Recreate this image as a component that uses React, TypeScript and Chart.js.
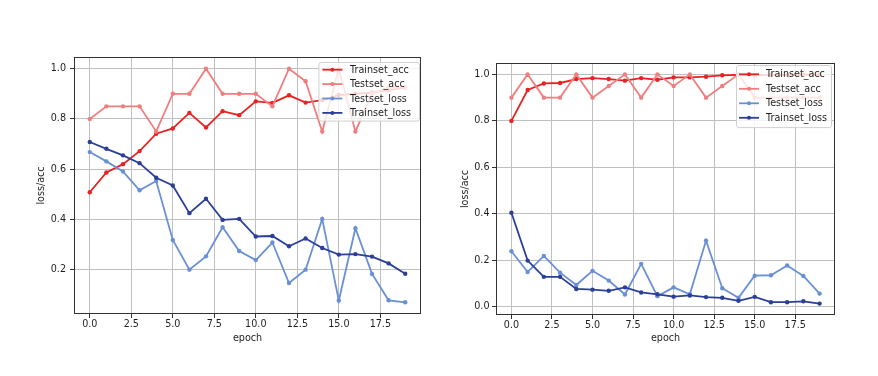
import React, { useEffect, useRef } from "react";
import { Chart, registerables } from "chart.js";

Chart.register(...registerables);

// ---------- data ----------
const epochs = [0, 1, 2, 3, 4, 5, 6, 7, 8, 9, 10, 11, 12, 13, 14, 15, 16, 17, 18, 19];
const seriesNames = ["Trainset_acc", "Testset_acc", "Testset_loss", "Trainset_loss"];
const xTickValues = [0, 2.5, 5, 7.5, 10, 12.5, 15, 17.5];
const leftYTickValues = [0.2, 0.4, 0.6, 0.8, 1.0];
const rightYTickValues = [0.0, 0.2, 0.4, 0.6, 0.8, 1.0];

const leftTrainAcc = [0.508, 0.587, 0.62, 0.672, 0.741, 0.762, 0.824, 0.766, 0.831, 0.815, 0.87, 0.864, 0.894, 0.865, 0.875, 0.895, 0.9, 0.905, 0.915, 0.925];
const leftTestAcc = [0.8, 0.85, 0.85, 0.85, 0.75, 0.9, 0.9, 1.0, 0.9, 0.9, 0.9, 0.85, 1.0, 0.95, 0.75, 1.0, 0.75, 0.9, 0.925, 0.925];
const leftTestLoss = [0.668, 0.631, 0.591, 0.516, 0.553, 0.318, 0.2, 0.253, 0.369, 0.274, 0.238, 0.308, 0.147, 0.2, 0.402, 0.077, 0.365, 0.183, 0.078, 0.07];
const leftTrainLoss = [0.708, 0.681, 0.655, 0.624, 0.566, 0.535, 0.425, 0.482, 0.398, 0.402, 0.332, 0.334, 0.293, 0.324, 0.286, 0.26, 0.262, 0.252, 0.225, 0.184];

const rightTrainAcc = [0.8, 0.933, 0.961, 0.963, 0.98, 0.984, 0.98, 0.973, 0.984, 0.977, 0.987, 0.987, 0.99, 0.996, 0.998, 0.997, 0.998, 0.998, 0.999, 0.999];
const rightTestAcc = [0.9, 1.0, 0.9, 0.9, 1.0, 0.9, 0.95, 1.0, 0.9, 1.0, 0.95, 1.0, 0.9, 0.95, 1.0, 0.9, 0.9, 0.9, 0.9, 0.9];
const rightTestLoss = [0.239, 0.15, 0.219, 0.147, 0.094, 0.155, 0.113, 0.053, 0.185, 0.046, 0.084, 0.054, 0.285, 0.08, 0.039, 0.134, 0.136, 0.178, 0.133, 0.057];
const rightTrainLoss = [0.405, 0.199, 0.129, 0.129, 0.077, 0.074, 0.069, 0.084, 0.062, 0.054, 0.044, 0.049, 0.042, 0.039, 0.026, 0.043, 0.02, 0.02, 0.024, 0.014];

// ---------- styles ----------
const seriesColors = ["#e82222", "#ef7f7f", "#6a90d4", "#2b3f9a"];
const FONT_FAMILY = '"DejaVu Sans", sans-serif';
const FONT_SIZE = 9.6;
const TEXT_COLOR = "#1e1e1e";
const GRID_COLOR = "#c0c0c0";

const legendPlugin = {
  id: "innerLegend",
  afterDatasetsDraw(chart: any, _args: any, opts: any) {
    const { ctx, chartArea: a } = chart;
    const ds = chart.data.datasets;
    ctx.save();
    ctx.font = `${FONT_SIZE}px ${FONT_FAMILY}`;
    const textW = Math.max(...ds.map((d: any) => ctx.measureText(d.label).width));
    const w = opts.padL + opts.handle + opts.gap + textW + opts.padR;
    const h = opts.rowOffset * 2 + opts.rowH * (ds.length - 1);
    const right = a.right - opts.marginRight;
    const left = right - w;
    const top = a.top + opts.marginTop;
    ctx.beginPath();
    if ((ctx as any).roundRect) (ctx as any).roundRect(left + 0.5, top + 0.5, w, h, 2.5);
    else ctx.rect(left + 0.5, top + 0.5, w, h);
    ctx.fillStyle = "rgba(255,255,255,0.8)";
    ctx.fill();
    ctx.strokeStyle = "#d0d0d0";
    ctx.lineWidth = 1;
    ctx.stroke();
    ds.forEach((d: any, i: number) => {
      const y = top + opts.rowOffset + i * opts.rowH;
      const x0 = left + opts.padL;
      ctx.strokeStyle = d.borderColor;
      ctx.lineWidth = 1.8;
      ctx.beginPath();
      ctx.moveTo(x0, y);
      ctx.lineTo(x0 + opts.handle, y);
      ctx.stroke();
      ctx.fillStyle = d.borderColor;
      ctx.beginPath();
      ctx.arc(x0 + opts.handle / 2, y, 2, 0, Math.PI * 2);
      ctx.fill();
      ctx.fillStyle = "#1e1e1e";
      ctx.textBaseline = "middle";
      ctx.textAlign = "left";
      ctx.fillText(d.label, x0 + opts.handle + opts.gap, y + 0.5);
    });
    ctx.restore();
  },
};

const framePlugin = {
  id: "frame",
  afterDraw(chart: any) {
    const { ctx, chartArea: a } = chart;
    ctx.save();
    ctx.strokeStyle = "#333";
    ctx.lineWidth = 1;
    const l = Math.round(a.left) + 0.5;
    const t = Math.round(a.top) + 0.5;
    const r = Math.round(a.right) - 0.5;
    const b = Math.round(a.bottom) - 0.5;
    ctx.strokeRect(l, t, r - l, b - t);
    ctx.restore();
  },
};

type Spec = {
  series: number[][];
  yTicks: number[];
  yMin: number;
  yMax: number;
  padding: { left: number; top: number; right: number; bottom: number };
  yAxisWidth: number;
  xAxisHeight: number;
  yTitlePad: number;
  yTickPad: number;
  xTickPad: number;
  xTitlePad: number;
  legend: any;
};

function makeConfig(spec: Spec): any {
  const font = { family: FONT_FAMILY, size: FONT_SIZE, lineHeight: 1.2 };
  return {
    type: "line",
    data: {
      datasets: seriesNames.map((name, k) => ({
        label: name,
        data: spec.series[k].map((v, i) => ({ x: epochs[i], y: v })),
        borderColor: seriesColors[k],
        backgroundColor: seriesColors[k],
        pointBackgroundColor: seriesColors[k],
        pointBorderWidth: 0,
        pointRadius: 2.2,
        pointHoverRadius: 2.2,
        borderWidth: 1.8,
        tension: 0,
        fill: false,
        order: 3 - k,
      })),
    },
    options: {
      animation: false,
      responsive: false,
      devicePixelRatio: 1,
      events: [],
      layout: { padding: spec.padding },
      plugins: {
        legend: { display: false },
        tooltip: { enabled: false },
        innerLegend: spec.legend,
      },
      scales: {
        x: {
          type: "linear",
          min: -0.95,
          max: 19.95,
          afterBuildTicks: (s: any) => {
            s.ticks = xTickValues.map((v) => ({ value: v }));
          },
          afterFit: (s: any) => {
            s.height = spec.xAxisHeight;
          },
          ticks: {
            callback: (v: any) => Number(v).toFixed(1),
            color: TEXT_COLOR,
            font,
            padding: spec.xTickPad,
            maxRotation: 0,
            autoSkip: false,
          },
          grid: { color: GRID_COLOR, lineWidth: 1, tickLength: 4, tickColor: "#333", drawTicks: true },
          border: { display: false },
          title: { display: true, text: "epoch", color: TEXT_COLOR, font, padding: { top: 0, bottom: spec.xTitlePad } },
        },
        y: {
          type: "linear",
          min: spec.yMin,
          max: spec.yMax,
          afterBuildTicks: (s: any) => {
            s.ticks = spec.yTicks.map((v) => ({ value: v }));
          },
          afterFit: (s: any) => {
            s.width = spec.yAxisWidth;
          },
          ticks: {
            callback: (v: any) => Number(v).toFixed(1),
            color: TEXT_COLOR,
            font,
            padding: spec.yTickPad,
            autoSkip: false,
          },
          grid: { color: GRID_COLOR, lineWidth: 1, tickLength: 4, tickColor: "#333", drawTicks: true },
          border: { display: false },
          title: { display: true, text: "loss/acc", color: TEXT_COLOR, font, padding: { top: spec.yTitlePad, bottom: 0 } },
        },
      },
    },
    plugins: [legendPlugin, framePlugin],
  };
}

const leftSpec: Spec = {
  series: [leftTrainAcc, leftTestAcc, leftTestLoss, leftTrainLoss],
  yTicks: leftYTickValues,
  yMin: 0.0235,
  yMax: 1.0465,
  padding: { left: 30, top: 57, right: 19, bottom: 30 },
  yAxisWidth: 44,
  xAxisHeight: 32,
  yTitlePad: 6,
  yTickPad: 4,
  xTickPad: 1,
  xTitlePad: 2,
  legend: { marginRight: 2, marginTop: 5, rowH: 14.4, rowOffset: 7.7, padL: 4, handle: 20, gap: 7.6, padR: 8 },
};

const rightSpec: Spec = {
  series: [rightTrainAcc, rightTestAcc, rightTestLoss, rightTrainLoss],
  yTicks: rightYTickValues,
  yMin: -0.035,
  yMax: 1.049,
  padding: { left: 12, top: 63, right: 43, bottom: 30 },
  yAxisWidth: 44,
  xAxisHeight: 31,
  yTitlePad: 7.3,
  yTickPad: 2.5,
  xTickPad: 1,
  xTitlePad: 2,
  legend: { marginRight: 4, marginTop: 2, rowH: 14.5, rowOffset: 9.3, padL: 3, handle: 20, gap: 7, padR: 4 },
};

function ChartCanvas({ spec, left, width }: { spec: Spec; left: number; width: number }) {
  const ref = useRef<HTMLCanvasElement | null>(null);
  useEffect(() => {
    if (!ref.current) return;
    const chart = new Chart(ref.current, makeConfig(spec));
    return () => chart.destroy();
  }, [spec]);
  return (
    <canvas
      ref={ref}
      width={width}
      height={376}
      style={{ position: "absolute", left, top: 0, width, height: 376, display: "block" }}
    />
  );
}

export default function App() {
  return (
    <div style={{ position: "absolute", left: 0, top: 0, width: 878, height: 376, background: "#fff", overflow: "hidden" }}>
      <ChartCanvas spec={leftSpec} left={0} width={440} />
      <ChartCanvas spec={rightSpec} left={440} width={438} />
    </div>
  );
}
